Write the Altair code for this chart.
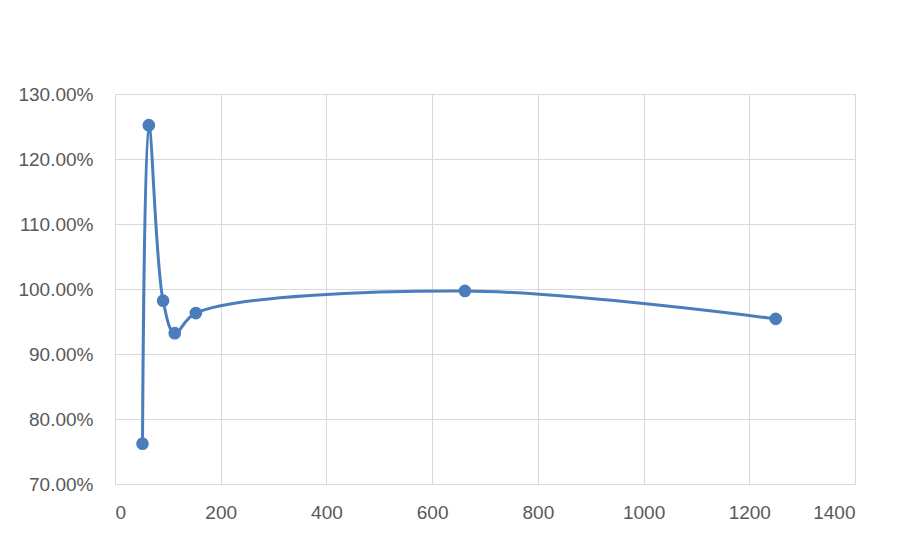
import altair as alt
import pandas as pd

x_vals = [52, 64, 91, 113, 153, 662, 1250]
y_vals = [0.762, 1.252, 0.982, 0.932, 0.963, 0.997, 0.954]
x_ticks = [0, 200, 400, 600, 800, 1000, 1200, 1400]
y_ticks = [0.7, 0.8, 0.9, 1.0, 1.1, 1.2, 1.3]

df = pd.DataFrame({"x": x_vals, "y": y_vals})

color = "#4a7ebb"
grid = "#d9d9d9"
label_color = "#595959"
font = "Liberation Sans"

x_enc = alt.X("x:Q", scale=alt.Scale(domain=[0, 1400], nice=False, zero=False),
              axis=alt.Axis(values=x_ticks, format="d", title=None, grid=True, gridColor=grid,
                            domain=False, ticks=False, labelPadding=19,
                            labelFontSize=19, labelColor=label_color, labelFont=font))
y_enc = alt.Y("y:Q", scale=alt.Scale(domain=[0.7, 1.3], nice=False, zero=False),
              axis=alt.Axis(values=y_ticks, format=".2%", title=None, grid=True, gridColor=grid,
                            domain=False, ticks=False, labelPadding=22,
                            labelFontSize=19, labelColor=label_color, labelFont=font))

line = alt.Chart(df).mark_line(interpolate="catmull-rom", color=color, strokeWidth=3).encode(
    x=x_enc, y=y_enc, order="x:Q")
pts = alt.Chart(df).mark_circle(color=color, size=160, opacity=1).encode(x="x:Q", y="y:Q")

chart = (line + pts).properties(
    width=740, height=390,
    autosize=alt.AutoSizeParams(type="none"),
    padding={"left": 107, "top": 86, "right": 43, "bottom": 52},
    background="white",
).configure_view(stroke=grid, strokeWidth=1)

chart.save("out.html", embed_options={"renderer": "svg", "actions": False})
